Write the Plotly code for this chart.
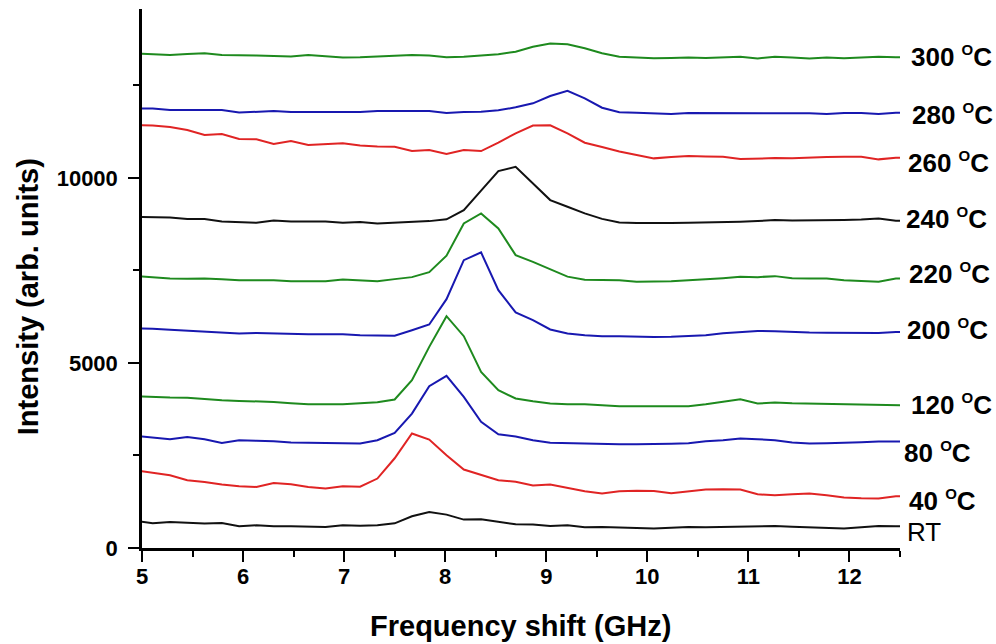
import plotly.graph_objects as go

# Frequency grid (GHz)
freq = [4.935, 5.106, 5.277, 5.448, 5.619, 5.790, 5.961, 6.132, 6.303, 6.474,
        6.645, 6.816, 6.987, 7.158, 7.329, 7.500, 7.671, 7.842, 8.013, 8.184,
        8.355, 8.526, 8.697, 8.868, 9.039, 9.210, 9.381, 9.552, 9.723, 9.894,
        10.065, 10.236, 10.407, 10.578, 10.749, 10.920, 11.091, 11.262, 11.433, 11.604,
        11.775, 11.946, 12.117, 12.288, 12.459, 12.630]

rt = [730, 667, 703, 676, 659, 676, 586, 613, 586, 586, 586, 567, 613, 600, 613, 667,
      857, 973, 902, 767, 775, 703, 640, 632, 595, 613, 559, 567, 551, 546, 524, 546,
      567, 559, 573, 586, 586, 595, 573, 551, 532, 524, 559, 595, 586, 586]
t40 = [2100, 2032, 1965, 1830, 1784, 1713, 1667, 1649, 1757, 1721, 1649, 1605, 1667, 1654,
       1876, 2424, 3092, 2930, 2506, 2119, 1984, 1830, 1789, 1686, 1713, 1613, 1532, 1470,
       1532, 1546, 1541, 1478, 1519, 1578, 1586, 1578, 1451, 1424, 1451, 1470, 1424, 1362,
       1343, 1335, 1398, 1398]
t80 = [3027, 2992, 2938, 3000, 2938, 2838, 2911, 2897, 2884, 2849, 2843, 2838, 2830, 2822,
       2911, 3108, 3632, 4371, 4649, 4081, 3406, 3073, 3011, 2911, 2843, 2830, 2822, 2803,
       2803, 2803, 2803, 2816, 2830, 2884, 2911, 2957, 2938, 2911, 2849, 2822, 2830, 2838,
       2857, 2876, 2876, 2876]
t120 = [4100, 4079, 4065, 4060, 4019, 3992, 3973, 3965, 3946, 3911, 3884, 3884, 3884, 3911,
        3938, 4011, 4533, 5433, 6262, 5722, 4757, 4262, 4038, 3965, 3903, 3884, 3884, 3857,
        3830, 3830, 3830, 3830, 3830, 3884, 3946, 4019, 3903, 3930, 3911, 3903, 3892, 3884,
        3884, 3876, 3849, 3849]
t200 = [5930, 5925, 5898, 5871, 5844, 5817, 5795, 5811, 5795, 5790, 5776, 5776, 5776, 5749,
        5736, 5736, 5884, 6038, 6722, 7776, 7984, 6965, 6363, 6154, 5903, 5795, 5749, 5722,
        5722, 5709, 5703, 5709, 5722, 5749, 5803, 5838, 5865, 5857, 5830, 5822, 5817, 5817,
        5811, 5811, 5838, 5838]
t220 = [7344, 7317, 7282, 7276, 7282, 7263, 7236, 7236, 7236, 7209, 7209, 7209, 7255, 7236,
        7209, 7263, 7317, 7452, 7898, 8768, 9039, 8633, 7911, 7730, 7533, 7330, 7249, 7236,
        7236, 7190, 7195, 7209, 7236, 7255, 7290, 7325, 7317, 7344, 7290, 7282, 7282, 7236,
        7209, 7190, 7282, 7282]
t240 = [8947, 8939, 8925, 8884, 8884, 8817, 8803, 8784, 8849, 8822, 8817, 8822, 8784, 8803,
        8768, 8795, 8817, 8830, 8879, 9128, 9655, 10182, 10298, 9849, 9398, 9217, 9039, 8890,
        8790, 8777, 8768, 8777, 8784, 8790, 8803, 8812, 8830, 8858, 8844, 8844, 8858, 8858,
        8871, 8903, 8838, 8838]
t260 = [11425, 11412, 11371, 11290, 11155, 11182, 11047, 11039, 10912, 10993, 10885, 10912,
        10931, 10871, 10844, 10839, 10722, 10750, 10641, 10750, 10722, 10952, 11201, 11412,
        11417, 11201, 10947, 10831, 10709, 10614, 10525, 10560, 10587, 10574, 10568, 10506,
        10520, 10533, 10525, 10547, 10560, 10568, 10568, 10498, 10541, 10541]
t280 = [11877, 11871, 11831, 11831, 11844, 11831, 11763, 11790, 11804, 11777, 11777, 11790,
        11790, 11777, 11804, 11812, 11804, 11804, 11750, 11777, 11785, 11823, 11904, 12012,
        12209, 12352, 12147, 11893, 11769, 11758, 11750, 11723, 11750, 11750, 11758, 11750,
        11750, 11750, 11750, 11742, 11723, 11750, 11750, 11723, 11758, 11758]
t300 = [13363, 13344, 13317, 13344, 13363, 13317, 13317, 13304, 13290, 13277, 13317, 13290,
        13250, 13255, 13277, 13298, 13317, 13304, 13255, 13271, 13310, 13336, 13407, 13542,
        13628, 13607, 13498, 13363, 13271, 13250, 13228, 13236, 13250, 13236, 13255, 13271,
        13223, 13271, 13250, 13223, 13250, 13228, 13250, 13271, 13255, 13255]

labels = ["RT", "40", "80", "120", "200", "220", "240", "260", "280", "300"]
series = [rt, t40, t80, t120, t200, t220, t240, t260, t280, t300]
colors = ["#111111", "#E02424", "#1818B0", "#1E8A1E", "#1818B0",
          "#1E8A1E", "#111111", "#E02424", "#1818B0", "#1E8A1E"]
# label offsets (pixels) relative to each curve's end
label_dx = [5, 7, 2, 9, 5, 7, 4, 6, 10, 9]
label_dy = [-6, -2, -11, 0, 3, 8, 0, -3, 0, 0]

x_ticks = [5, 6, 7, 8, 9, 10, 11, 12]
y_ticks = [0, 5000, 10000]
x_title = "Frequency shift (GHz)"
y_title = "Intensity (arb. units)"

FONT = "Arial, Liberation Sans, Helvetica, sans-serif"

fig = go.Figure()
for name, ys, col in zip(labels, series, colors):
    fig.add_trace(go.Scatter(x=freq, y=ys, mode="lines", name=name,
                             line=dict(color=col, width=2), showlegend=False))

annotations = []
for name, ys, dx, dy in zip(labels, series, label_dx, label_dy):
    if name == "RT":
        text = "RT"
        weight = "normal"
    else:
        text = name + " <sup><span style='font-size:15px'>O</span></sup>C"
        weight = "bold"
    annotations.append(dict(x=12.5, y=ys[-3], xref="x", yref="y", text=text,
                            showarrow=False, xanchor="left", yanchor="middle",
                            xshift=dx, yshift=dy,
                            font=dict(family=FONT, size=26, color="black", weight=weight)))

title_font = dict(family=FONT, size=29, color="black", weight="bold")
annotations.append(dict(text=x_title, xref="paper", yref="paper", x=0.4987, y=0,
                        xanchor="center", yanchor="middle", yshift=-78,
                        showarrow=False, font=title_font))
annotations.append(dict(text=y_title, xref="paper", yref="paper", x=0, y=0.4662,
                        xanchor="center", yanchor="middle", xshift=-114.5, textangle=-90,
                        showarrow=False, font=title_font))

fig.update_layout(
    width=996, height=644,
    margin=dict(l=142, r=96, t=9, b=96, autoexpand=False),
    paper_bgcolor="white", plot_bgcolor="white",
    annotations=annotations,
    font=dict(family=FONT, color="black"),
)
fig.update_xaxes(
    range=[5, 12.5], tickvals=x_ticks, ticks="outside", ticklen=11, tickwidth=2,
    tickcolor="black", showline=True, linewidth=2.5, linecolor="black",
    showgrid=False, zeroline=False, ticklabelstandoff=-4,
    minor=dict(dtick=0.5, tick0=5, ticks="outside", ticklen=6, tickwidth=2, tickcolor="black"),
    tickfont=dict(family=FONT, size=22, color="black", weight="bold"),
)
fig.update_yaxes(
    range=[0, 14560], tickvals=y_ticks, tickformat="d", ticks="outside", ticklen=11,
    tickwidth=2, tickcolor="black", showline=True, linewidth=2.5, linecolor="black",
    showgrid=False, zeroline=False, ticklabelstandoff=6,
    minor=dict(dtick=2500, tick0=0, ticks="outside", ticklen=6, tickwidth=2, tickcolor="black"),
    tickfont=dict(family=FONT, size=22, color="black", weight="bold"),
)

fig.write_html("out.html", config={"displayModeBar": False},
               post_script="document.body.style.margin='0px';")
